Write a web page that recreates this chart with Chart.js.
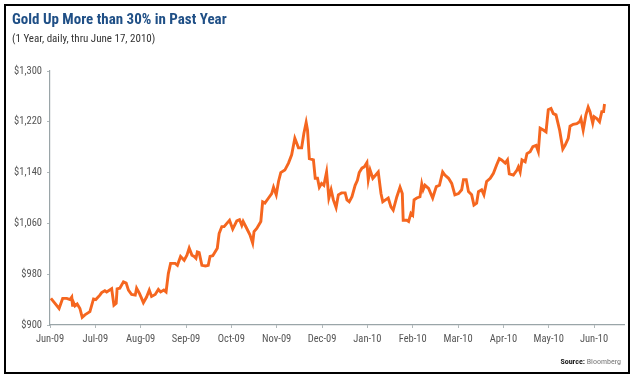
<!DOCTYPE html>
<html>
<head>
<meta charset="utf-8">
<script src="https://cdn.jsdelivr.net/npm/chart.js@4/dist/chart.umd.min.js"></script>
<style>
  html, body { margin:0; padding:0; background:#fff; }
  #wrap { position:relative; width:639px; height:381px; overflow:hidden; }
  #frame { position:absolute; left:4px; top:4px; width:626px; height:370px; box-sizing:border-box; border:2px solid #000; }
  #c { position:absolute; left:0; top:0; }
  .narrow { font-family:'Liberation Sans Narrow','Arial Narrow','Roboto Condensed',Arial,sans-serif; }
  #title { position:absolute; left:12px; top:10px; font-size:15px; font-weight:bold; color:#1f4f86; white-space:nowrap; }
  #sub { position:absolute; left:12px; top:32px; font-size:11px; color:#333; white-space:nowrap; }
  #src { position:absolute; right:18px; top:357px; font-size:8px; color:#777; white-space:nowrap; text-align:right; }
  #src b { color:#222; }
</style>
</head>
<body>
<div id="wrap">
  <canvas id="c" width="639" height="381"></canvas>
  <div id="frame"></div>
  <div id="title" class="narrow">Gold Up More than 30% in Past Year</div>
  <div id="sub" class="narrow">(1 Year, daily, thru June 17, 2010)</div>
  <div id="src" class="narrow"><b>Source:</b> Bloomberg</div>
</div>
<script>
const monthLabels = ['Jun-09','Jul-09','Aug-09','Sep-09','Oct-09','Nov-09','Dec-09','Jan-10','Feb-10','Mar-10','Apr-10','May-10','Jun-10'];
const yTickValues = [900, 980, 1060, 1140, 1220, 1300];

// position in months after the Jun-09 tick
const xMonths = [
  0.02,0.11,0.20,0.28,0.37,0.44,0.48,0.50,0.51,0.55,0.60,0.66,0.71,0.77,0.88,0.96,1.01,1.10,1.14,1.21,
  1.25,1.36,1.41,1.46,1.48,1.54,1.62,1.68,1.73,1.80,1.88,1.91,1.97,2.02,2.06,2.13,2.19,2.24,2.32,2.39,
  2.44,2.51,2.56,2.61,2.66,2.76,2.81,2.88,2.96,3.02,3.07,3.13,3.18,3.22,3.25,3.29,3.35,3.43,3.49,3.53,
  3.59,3.64,3.69,3.73,3.79,3.84,3.90,3.96,4.03,4.12,4.18,4.23,4.26,4.34,4.41,4.47,4.50,4.56,4.65,4.69,
  4.74,4.82,4.89,4.93,4.99,5.04,5.09,5.18,5.26,5.33,5.40,5.48,5.55,5.60,5.65,5.68,5.72,5.81,5.85,5.90,
  5.94,5.99,6.04,6.10,6.15,6.20,6.25,6.31,6.36,6.43,6.51,6.55,6.60,6.66,6.73,6.78,6.82,6.88,6.93,6.99,
  7.02,7.06,7.12,7.17,7.24,7.30,7.34,7.40,7.46,7.52,7.57,7.65,7.72,7.77,7.79,7.87,7.91,7.96,8.00,8.03,
  8.09,8.16,8.20,8.23,8.27,8.35,8.44,8.52,8.59,8.66,8.71,8.79,8.86,8.93,9.01,9.08,9.12,9.18,9.23,9.30,
  9.35,9.41,9.45,9.52,9.57,9.63,9.71,9.78,9.85,9.91,9.96,10.04,10.09,10.13,10.22,10.30,10.33,10.37,10.41,10.48,
  10.52,10.59,10.65,10.72,10.77,10.81,10.88,10.94,10.99,11.05,11.10,11.16,11.24,11.31,11.36,11.43,11.47,11.54,11.62,11.68,
  11.71,11.76,11.82,11.87,11.91,11.97,12.00,12.06,12.12,12.17,12.21,12.23
];
const goldPrice = [
  942,934,926,942,942,940,944,929,937,930,933,926,912,916,921,941,940,947,951,954,
  952,957,931,934,957,958,968,966,955,948,947,958,950,942,935,944,955,945,948,956,
  952,955,952,981,997,997,994,1008,1002,1010,1021,1010,1008,1005,1015,1014,994,993,994,1008,
  1009,1015,1021,1044,1055,1055,1060,1065,1051,1064,1066,1057,1063,1052,1042,1029,1047,1052,1063,1094,
  1092,1100,1107,1117,1105,1126,1140,1144,1155,1168,1194,1179,1179,1202,1219,1207,1162,1160,1131,1131,
  1117,1123,1120,1141,1100,1113,1097,1085,1105,1108,1108,1097,1094,1102,1120,1128,1140,1147,1149,1156,
  1129,1144,1131,1135,1141,1107,1094,1097,1100,1086,1081,1102,1117,1107,1065,1065,1063,1076,1073,1097,
  1100,1102,1122,1113,1120,1115,1100,1118,1120,1141,1136,1131,1123,1105,1107,1113,1129,1129,1110,1105,
  1089,1092,1110,1113,1105,1126,1131,1139,1152,1162,1160,1155,1160,1138,1136,1144,1149,1141,1160,1157,
  1170,1173,1181,1183,1173,1210,1207,1204,1239,1241,1233,1231,1207,1177,1183,1194,1213,1216,1217,1220,
  1225,1207,1231,1243,1236,1218,1228,1225,1220,1236,1236,1248
];

const FONT = "'Liberation Sans Narrow','Arial Narrow','Roboto Condensed',Arial,sans-serif";
const axisColor = '#9aa5a8';

new Chart(document.getElementById('c'), {
  type: 'line',
  data: {
    datasets: [{
      data: xMonths.map((x, i) => ({ x: x, y: goldPrice[i] })),
      borderColor: '#f5661f',
      borderWidth: 2.9,
      pointRadius: 0,
      tension: 0,
      fill: false
    }]
  },
  options: {
    responsive: false,
    animation: false,
    layout: { padding: { left: 0, right: 15, top: 71, bottom: 34 } },
    plugins: { legend: { display: false }, tooltip: { enabled: false }, title: { display: false } },
    scales: {
      x: {
        type: 'linear',
        min: 0,
        max: 12.66,
        afterBuildTicks: s => { s.ticks = monthLabels.map((_, i) => ({ value: i })); },
        afterFit: s => { s.height = 22; },
        ticks: {
          autoSkip: false, maxRotation: 0, minRotation: 0,
          callback: v => monthLabels[v],
          color: '#555', font: { family: FONT, size: 10.5 }, padding: 5
        },
        grid: { display: true, drawOnChartArea: false, drawTicks: true, tickLength: 3, color: '#b0b8ba' },
        border: { display: true, color: axisColor, width: 1.2, dash: [1, 1] }
      },
      y: {
        min: 900,
        max: 1300,
        afterBuildTicks: s => { s.ticks = yTickValues.map(v => ({ value: v })); },
        afterFit: s => { s.width = 50; },
        ticks: {
          callback: v => '$' + v.toLocaleString('en-US'),
          color: '#555', font: { family: FONT, size: 10.5 }, padding: 5
        },
        grid: { display: true, drawOnChartArea: false, drawTicks: true, tickLength: 3, color: '#b0b8ba' },
        border: { display: true, color: axisColor, width: 1.2, dash: [1, 1] }
      }
    }
  }
});
</script>
</body>
</html>
